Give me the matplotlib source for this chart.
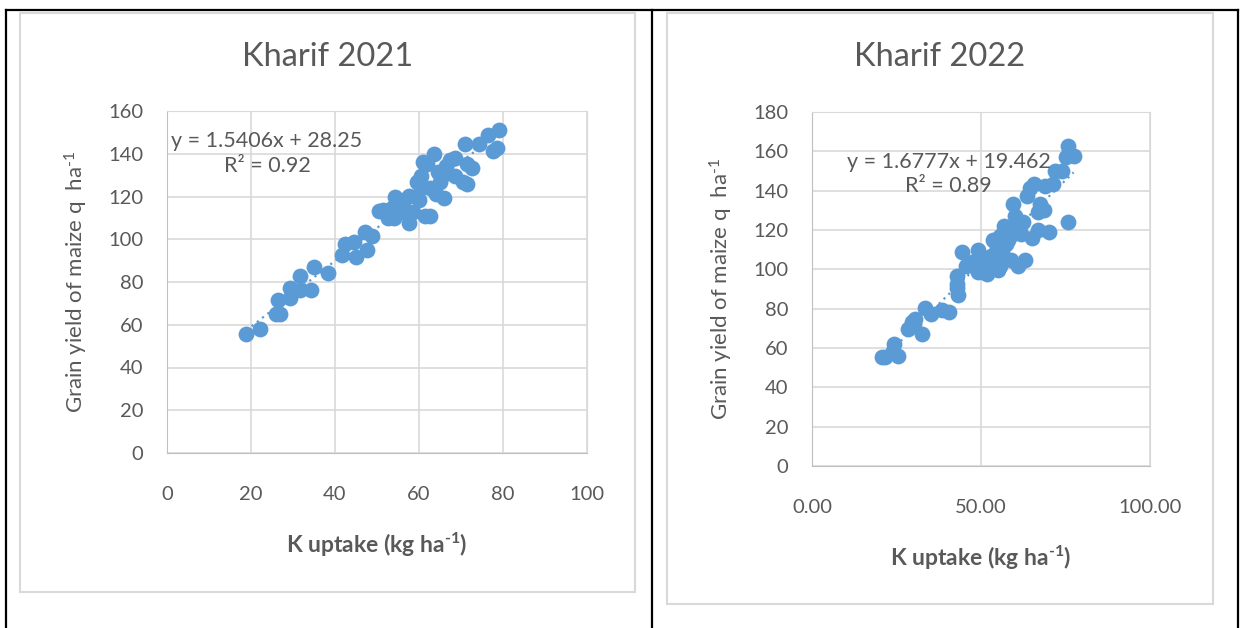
import numpy as np
import matplotlib
matplotlib.use("Agg")
import matplotlib.pyplot as plt
from matplotlib.patches import Rectangle
from matplotlib.lines import Line2D

plt.rcParams['font.family'] = ['Lato', 'DejaVu Sans']
plt.rcParams['mathtext.default'] = 'regular'

# Kharif 2021 : K uptake vs grain yield
k21 = [18.9, 22.2, 25.9, 26.9, 26.4, 29.2, 29.4, 31.6, 31.6, 34.4, 34.9, 38.4,
       41.6, 42.4, 44.6, 44.9, 47.5, 47.2, 48.9, 50.4, 52.5, 54.0, 54.3, 53.5,
       55.9, 57.5, 57.7, 58.5, 60.0, 60.5, 59.5, 61.0, 61.5, 62.5, 63.5, 61.9,
       64.5, 65.5, 66.0, 64.0, 66.5, 67.3, 68.5, 68.5, 70.5, 71.5, 71.5, 72.5,
       70.9, 74.2, 76.5, 79.0, 78.5, 77.5, 62.5, 60.5, 55.4, 51.4, 56.4, 65.0]
y21 = [55.9, 57.8, 64.9, 64.9, 71.5, 72.4, 77.1, 82.7, 76.2, 76.2, 86.9, 84.2,
       92.7, 97.7, 98.7, 91.6, 94.9, 103.4, 101.5, 113.1, 109.9, 109.9, 119.9, 114.6,
       115.6, 120.3, 107.7, 112.8, 118.4, 129.6, 126.8, 136.2, 110.9, 110.9, 140.0, 135.3,
       131.5, 129.6, 119.3, 121.2, 134.3, 137.1, 138.1, 129.6, 126.8, 125.9, 135.3, 133.4,
       144.7, 144.7, 148.8, 151.2, 142.8, 141.4, 124.0, 124.0, 112.8, 113.8, 118.4, 126.8]

# Kharif 2022
k22 = [20.6, 21.7, 24.3, 25.4, 23.9, 28.4, 29.5, 30.6, 30.1, 32.5, 33.4, 35.1,
       38.4, 40.6, 42.9, 42.9, 42.9, 43.2, 44.3, 45.7, 47.3, 49.0, 50.1, 50.7,
       51.8, 53.5, 52.9, 54.6, 55.1, 55.7, 56.8, 56.2, 57.9, 59.0, 59.6, 60.1,
       60.7, 62.4, 61.8, 59.0, 61.0, 62.9, 65.1, 66.8, 70.2, 63.5, 64.6, 65.7,
       67.4, 68.5, 66.8, 69.0, 71.3, 71.8, 74.0, 75.7, 75.2, 77.4, 75.7, 52.3,
       54.0, 57.4, 58.5, 55.7, 49.0, 51.2, 47.9]
y22 = [55.6, 55.6, 61.8, 56.1, 58.7, 69.9, 73.0, 75.0, 72.0, 66.9, 80.5, 77.1,
       79.1, 78.1, 96.4, 92.3, 90.3, 87.2, 109.0, 101.5, 103.5, 109.7, 104.6, 98.5,
       97.4, 115.1, 106.6, 110.7, 99.5, 117.1, 122.1, 109.0, 115.1, 119.2, 133.1, 127.0,
       124.0, 124.0, 118.2, 104.6, 101.5, 105.0, 115.8, 119.9, 118.8, 137.1, 141.3, 143.3,
       133.1, 130.0, 129.0, 142.3, 143.3, 149.8, 149.8, 162.7, 157.0, 157.6, 124.0, 104.6,
       106.6, 113.0, 117.1, 101.5, 98.5, 101.5, 101.5]

# trendline coefficients shown on the chart
fit21 = (1.5406, 28.25, 0.92)
fit22 = (1.6777, 19.462, 0.89)

W, H = 1240, 628
blue = '#5B9BD5'
grey_txt = '#595959'

fig = plt.figure(figsize=(W / 100, H / 100), dpi=100)


def frac(x0, y0, x1, y1):
    # pixel box (top-left origin) -> figure fraction rect
    return [x0 / W, 1 - y1 / H, (x1 - x0) / W, (y1 - y0) / H]


# table lines and chart boxes
for xs, ys in [([6, 1238], [10, 10]), ([6, 6], [10, 628]),
               ([652, 652], [10, 628]), ([1238, 1238], [10, 628])]:
    fig.add_artist(Line2D([x / W for x in xs], [1 - y / H for y in ys],
                          color='black', lw=1.6))
for x0, y0, x1, y1 in [(20, 13, 635, 592), (667, 13, 1213, 604)]:
    fig.add_artist(Rectangle((x0 / W, 1 - y1 / H), (x1 - x0) / W, (y1 - y0) / H,
                             fill=False, edgecolor='#D9D9D9', lw=1.5))

sup = 'ha$^{\u20101}$'


def panel(rect, xs, ys, fit, xlim, xticks, xfmt, ylim, yticks, title, tpos, eqpos):
    ax = fig.add_axes(rect)
    ax.set_xlim(xlim)
    ax.set_ylim(ylim)
    ax.set_xticks(xticks)
    ax.set_yticks(yticks)
    ax.set_xticklabels([xfmt.format(t) for t in xticks])
    ax.grid(True, color='#D9D9D9', lw=1.2)
    ax.set_axisbelow(True)
    for s in ax.spines.values():
        s.set_color('#D9D9D9')
    ax.spines['left'].set_color('#BFBFBF')
    ax.spines['bottom'].set_color('#BFBFBF')
    ax.tick_params(length=0, labelsize=14.5, colors=grey_txt)
    ax.tick_params(axis='x', pad=24)
    ax.tick_params(axis='y', pad=17)
    ax.scatter(xs, ys, s=130, color=blue, zorder=3, linewidths=0)
    m, c, r2 = fit
    tx = np.array([min(xs), max(xs)])
    ax.plot(tx, m * tx + c, color=blue, lw=1.6, ls=(0, (1, 2)), zorder=2)
    ax.text(eqpos[0], eqpos[1], f"y = {m}x + {c}\nR² = {r2}", transform=ax.transAxes,
            ha='center', va='center', fontsize=15.5, color=grey_txt, linespacing=1.3,
            zorder=4)
    ax.set_ylabel('Grain yield of maize q  ' + sup, fontsize=16, color=grey_txt,
                  labelpad=13)
    ax.set_xlabel('K uptake (kg ' + sup + ')', fontsize=16.5, color=grey_txt,
                  fontweight='bold', labelpad=20)
    fig.text(tpos[0] / W, 1 - tpos[1] / H, title, ha='center', va='center',
             fontsize=23.5, color=grey_txt)
    return ax


panel(frac(167, 111, 587, 453), k21, y21, fit21, (0, 100), [0, 20, 40, 60, 80, 100],
      '{:.0f}', (0, 160), np.arange(0, 161, 20), 'Kharif 2021', (328, 57), (0.238, 0.875))
panel(frac(812, 112, 1150, 466), k22, y22, fit22, (0, 100), [0, 50, 100],
      '{:.2f}', (0, 180), np.arange(0, 181, 20), 'Kharif 2022', (940, 57), (0.404, 0.825))

fig.savefig('out.png', dpi=100)
